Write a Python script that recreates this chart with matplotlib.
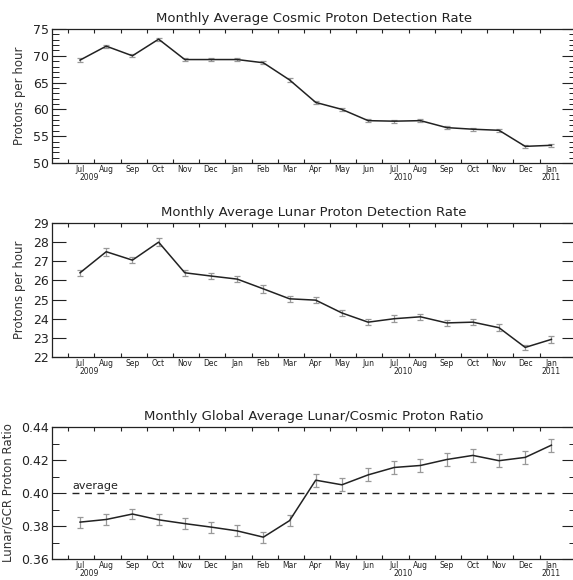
import matplotlib
matplotlib.use("Agg")
import matplotlib.pyplot as plt
from matplotlib.ticker import MultipleLocator, FixedLocator
import numpy as np

months = ["Jul", "Aug", "Sep", "Oct", "Nov", "Dec", "Jan", "Feb", "Mar", "Apr",
          "May", "Jun", "Jul", "Aug", "Sep", "Oct", "Nov", "Dec", "Jan"]
years = {0: "2009", 12: "2010", 18: "2011"}

cosmic = [69.2, 71.8, 70.0, 73.1, 69.3, 69.3, 69.3, 68.7, 65.5, 61.3,
          60.0, 57.9, 57.8, 57.9, 56.6, 56.3, 56.1, 53.1, 53.3]
cosmic_err = [0.3] * 19

lunar = [26.4, 27.5, 27.06, 28.0, 26.4, 26.23, 26.07, 25.56, 25.04, 24.97,
         24.3, 23.82, 24.0, 24.1, 23.78, 23.82, 23.53, 22.5, 22.92]
lunar_err = [0.17, 0.2, 0.17, 0.2, 0.17, 0.17, 0.17, 0.2, 0.17, 0.17,
             0.17, 0.17, 0.17, 0.17, 0.17, 0.17, 0.17, 0.15, 0.17]

ratio = [0.3824, 0.3840, 0.3873, 0.3838, 0.3815, 0.3794, 0.3771, 0.3733, 0.3833, 0.4078,
         0.4050, 0.4110, 0.4155, 0.4167, 0.4203, 0.4228, 0.4196, 0.4216, 0.4290]
ratio_err = [0.0033] * 9 + [0.004] * 10
ratio_avg = 0.40

x = np.arange(len(months))

fig = plt.figure(figsize=(5.73, 5.80), dpi=100)
plt.rcParams['font.family'] = ['DejaVu Sans']

panels = [
    dict(pos=[0.0908, 0.719, 0.914, 0.231], y=cosmic, e=cosmic_err, lim=(50, 75),
         major=5, minor=1, title="Monthly Average Cosmic Proton Detection Rate",
         ylabel="Protons per hour"),
    dict(pos=[0.0908, 0.3845, 0.914, 0.231], y=lunar, e=lunar_err, lim=(22, 29),
         major=1, minor=None, title="Monthly Average Lunar Proton Detection Rate",
         ylabel="Protons per hour"),
    dict(pos=[0.0908, 0.036, 0.914, 0.2278], y=ratio, e=ratio_err, lim=(0.36, 0.44),
         major=0.02, minor=0.01, title="Monthly Global Average Lunar/Cosmic Proton Ratio",
         ylabel="Lunar/GCR Proton Ratio"),
]

for i, p in enumerate(panels):
    ax = fig.add_axes(p["pos"])
    ax.errorbar(x, p["y"], yerr=p["e"], fmt="none", ecolor="#999999",
                elinewidth=0.9, capsize=2.5, capthick=0.9, zorder=2)
    ax.plot(x, p["y"], color="#222222", lw=1.1, zorder=3)
    ax.set_xlim(-1.07, 18.93)
    ax.set_ylim(*p["lim"])
    ax.set_title(p["title"], fontsize=9.5, color="#222222", pad=5)
    ax.set_ylabel(p["ylabel"], fontsize=8.5, color="#333333", labelpad=5)
    # x ticks at month boundaries, labels at month centres
    ax.xaxis.set_major_locator(FixedLocator(x - 0.45))
    ax.xaxis.set_minor_locator(FixedLocator(x))
    ax.set_xticklabels([""] * len(x))
    ax.set_xticklabels(months, minor=True)
    ax.tick_params(axis="x", which="major", direction="in", length=3, width=0.8,
                   top=True, bottom=True, colors="#222222")
    ax.tick_params(axis="x", which="minor", length=0, labelsize=5.5, pad=1.5,
                   labelcolor="#222222")
    for k, yr in years.items():
        off = 0.0 if k == 18 else 0.33
        ax.text(k + off, -0.078, yr, transform=ax.get_xaxis_transform(),
                ha="center", va="top", fontsize=5.5, color="#222222")
    ax.yaxis.set_major_locator(MultipleLocator(p["major"]))
    if p["minor"]:
        ax.yaxis.set_minor_locator(MultipleLocator(p["minor"]))
    ax.tick_params(axis="y", which="major", direction="in", length=10, width=0.8,
                   left=True, right=True, labelsize=9, pad=2, colors="#222222")
    ax.tick_params(axis="y", which="minor", direction="in", length=5, width=0.7,
                   left=True, right=True, colors="#222222")
    for s in ax.spines.values():
        s.set_linewidth(0.9)
        s.set_color("#222222")
    if i == 2:
        ax.yaxis.set_major_formatter(matplotlib.ticker.FormatStrFormatter("%.2f"))
        ax.plot([-0.3, 18.1], [ratio_avg, ratio_avg], ls=(0, (5, 4)), color="#222222",
                lw=1.0, zorder=1)
        ax.text(-0.3, ratio_avg + 0.0012, "average", fontsize=8, color="#222222",
                ha="left", va="bottom")

fig.savefig("out.png", dpi=100)
